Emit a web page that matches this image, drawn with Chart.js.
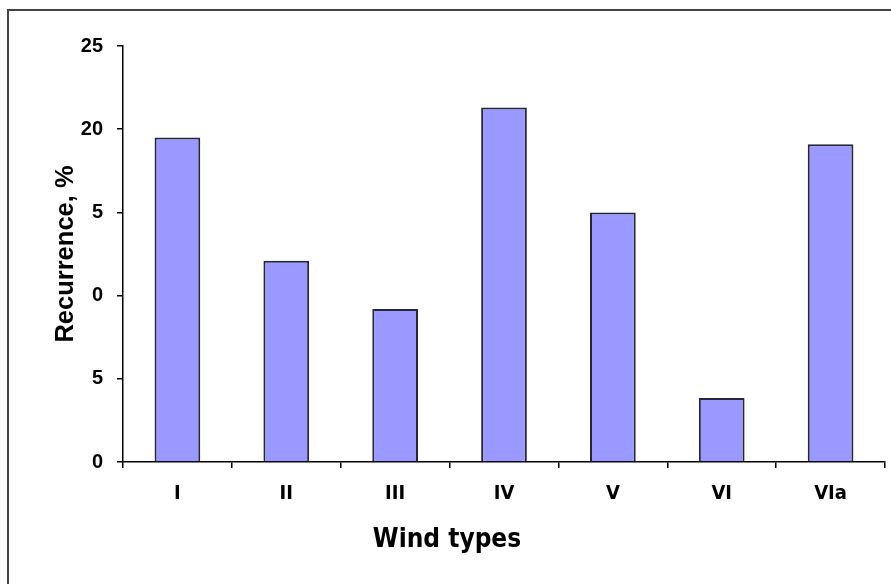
<!DOCTYPE html>
<html lang="en">
<head>
  <meta charset="UTF-8">
  <title>Wind types recurrence</title>
  <script src="https://cdn.jsdelivr.net/npm/chart.js"></script>
  <style>
    body {
      margin: 0;
      background: white;
    }
    #wrap {
      position: relative;
      width: 891px;
      height: 584px;
    }
    #frame {
      position: absolute;
      left: 7px;
      top: 9px;
      width: 900px;
      height: 600px;
      border-top: 2px solid #444;
      border-left: 2px solid #444;
      pointer-events: none;
    }
  </style>
</head>
<body>
  <div id="wrap">
    <canvas id="chart" width="891" height="584"></canvas>
    <div id="frame"></div>
  </div>

  <script>
    const windTypes = ["I", "II", "III", "IV", "V", "VI", "VIa"];
    const recurrence = [19.5, 12.1, 9.2, 21.3, 15.0, 3.85, 19.1];
    // tick labels as printed in the picture (bottom to top)
    const yTickLabels = ["0", "5", "0", "5", "20", "25"];

    const condensed = "'DejaVu Sans Condensed', 'DejaVu Sans'";
    const arial = "'Liberation Sans', Arial";

    new Chart(document.getElementById("chart"), {
      type: "bar",
      data: {
        labels: windTypes,
        datasets: [{
          data: recurrence,
          backgroundColor: "#9999ff",
          borderColor: "#26263a",
          borderWidth: 2,
          categoryPercentage: 1,
          barPercentage: 0.42
        }]
      },
      options: {
        responsive: false,
        animation: false,
        layout: {
          padding: { top: 46, right: 6, bottom: 0, left: 9 }
        },
        plugins: {
          legend: { display: false },
          tooltip: { enabled: false },
          // x title centred on the whole figure, like the original
          title: {
            display: true,
            position: "bottom",
            text: "Wind types",
            color: "#000",
            padding: { top: 0, bottom: 28 },
            font: { family: condensed, size: 26, weight: "bold", lineHeight: 1.2 }
          }
        },
        scales: {
          x: {
            afterFit: s => { s.height = 584 - 462 - 59.2; },
            border: { display: true, color: "#000", width: 1.5 },
            grid: {
              display: true,
              drawOnChartArea: false,
              drawTicks: true,
              tickLength: 6,
              color: "#000",
              lineWidth: 1.5
            },
            ticks: {
              color: "#000",
              padding: 14,
              maxRotation: 0,
              font: { family: condensed, size: 20, weight: "bold" }
            }
          },
          y: {
            min: 0,
            max: 25,
            afterFit: s => { s.width = 114; },
            border: { display: true, color: "#000", width: 1.5 },
            grid: {
              display: true,
              drawOnChartArea: false,
              drawTicks: true,
              tickLength: 6,
              color: "#000",
              lineWidth: 1.5
            },
            ticks: {
              stepSize: 5,
              color: "#000",
              padding: 14,
              font: { family: arial, size: 20, weight: "bold" },
              callback: (v, i) => yTickLabels[i]
            },
            title: {
              display: true,
              text: "Recurrence, %",
              color: "#000",
              padding: { top: 42, bottom: 0 },
              font: { family: arial, size: 25.5, weight: "bold" }
            }
          }
        }
      }
    });
  </script>
</body>
</html>
